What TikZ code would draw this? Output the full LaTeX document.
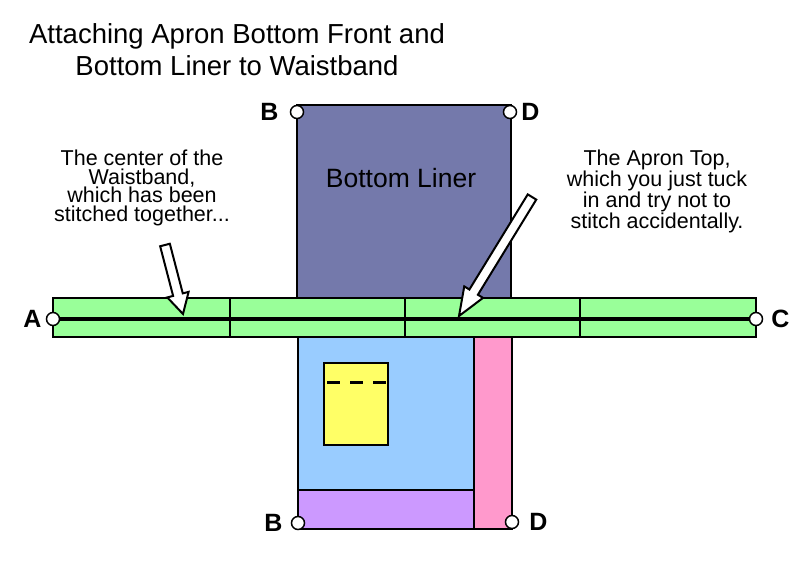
\documentclass[tikz,border=0pt]{standalone}
\usepackage{fontspec}
\setmainfont{Liberation Sans}
\usetikzlibrary{positioning,calc}
\definecolor{linerblue}{HTML}{7479AB}
\definecolor{bandgreen}{HTML}{99FF99}
\definecolor{frontblue}{HTML}{99CCFF}
\definecolor{hempink}{HTML}{FF99CC}
\definecolor{hemlilac}{HTML}{CC99FF}
\definecolor{pocketyellow}{HTML}{FFFF66}

% hollow arrow: tail, tip, head length
\newcommand{\hollowarrow}[3]{%
  \coordinate (hb) at ($(#2)!#3!(#1)$);
  \draw[arrowbody] ($(#1)!5pt!90:(#2)$) -- ($(hb)!5pt!90:(#2)$) -- ($(hb)!11pt!90:(#2)$)
    -- (#2) -- ($(hb)!11pt!-90:(#2)$) -- ($(hb)!5pt!-90:(#2)$) -- ($(#1)!5pt!-90:(#2)$) -- cycle;
}

\begin{document}
\begin{tikzpicture}[
        x=1pt, y=-1pt,
        every node/.style={inner sep=0pt},
        piece/.style={draw, line width=2pt},
        stitch/.style={line width=3pt, dash pattern=on 13pt off 10pt},
        point/.style={circle, draw, fill=white, line width=1.5pt, minimum size=13pt},
        ptlabel/.style={font=\fontsize{25}{25}\selectfont\bfseries},
        note/.style={align=center, font=\fontsize{21.5}{18.5}\selectfont},
        arrowbody/.style={draw, fill=white, line width=2pt, line join=miter}
    ]
        \useasboundingbox (0,0) rectangle (800,561);

        % Title
        \node[align=center, anchor=north, font=\fontsize{27.5}{32}\selectfont] (title) at (237,23)
            {Attaching Apron Bottom Front and\\Bottom Liner to Waistband};

        % Bottom Liner
        \draw[piece, fill=linerblue] (297,105) rectangle (511,298);
        \node[anchor=base, font=\fontsize{26.5}{30}\selectfont] (linertext) at (401,188) {Bottom Liner};

        % Apron Bottom Front
        \draw[piece, fill=frontblue] (298,337) rectangle (474,490);
        \draw[piece, fill=hemlilac] (298,490) rectangle (474,529);
        \draw[piece, fill=hempink] (474,337) rectangle (512,529);
        \draw[piece, fill=pocketyellow] (324,363) rectangle (388,445);
        \draw[stitch] (327,382) -- (388,382);

        % Waistband
        \foreach \xa/\xb in {53/230, 230/405, 405/580, 580/756}
            \draw[piece, fill=bandgreen] (\xa,298) rectangle (\xb,337);
        \node[point] (pA) at (53,319) {};
        \node[point] (pC) at (756,319) {};
        \draw[line width=4.5pt] (pA) -- (pC);

        % Corner points
        \node[point] (pBtop) at (297,112) {};
        \node[point] (pDtop) at (510,112) {};
        \node[point] (pBbot) at (298,523) {};
        \node[point] (pDbot) at (512,522) {};
        \node[ptlabel, left=4pt of pA] (lA) {A};
        \node[ptlabel, right=8pt of pC] (lC) {C};
        \node[ptlabel, left=11pt of pBtop] (lBtop) {B};
        \node[ptlabel, right=4pt of pDtop] (lDtop) {D};
        \node[ptlabel, left=8pt of pBbot] (lBbot) {B};
        \node[ptlabel, right=10pt of pDbot] (lDbot) {D};

        % Notes
        \node[note, anchor=north] (centernote) at (142,150)
            {The center of the\\Waistband,\\which has been\\stitched together...};
        \node[note, anchor=north] (topnote) at (657,150)
            {The Apron Top,\\which you just tuck\\in and try not to\\stitch accidentally.};

        % Arrows
        \coordinate (centertail) at (165,245);
        \coordinate (centertip) at (183,314);
        \coordinate (toptail) at (532,197);
        \coordinate (toptip) at (459,316);
        \hollowarrow{centertail}{centertip}{20pt}
        \hollowarrow{toptail}{toptip}{28pt}

    \end{tikzpicture}
\end{document}
